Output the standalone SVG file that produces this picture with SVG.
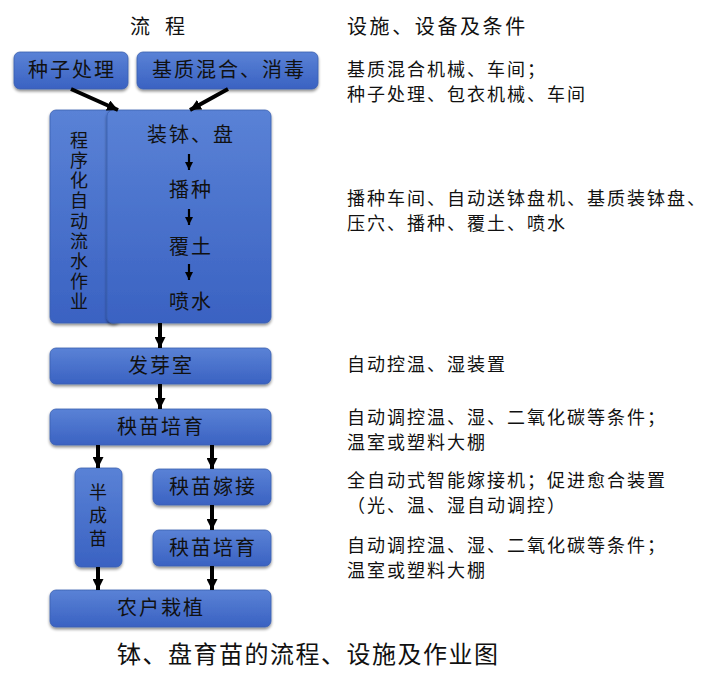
<svg xmlns="http://www.w3.org/2000/svg" width="717" height="675" viewBox="0 0 717 675">
<defs>
<linearGradient id="g" x1="0" y1="0" x2="0" y2="1">
<stop offset="0" stop-color="#5a82d6"/>
<stop offset="1" stop-color="#3a62c2"/>
</linearGradient>
<filter id="sh" x="-10%" y="-10%" width="125%" height="130%">
<feGaussianBlur in="SourceAlpha" stdDeviation="1.5"/>
<feOffset dx="0" dy="2" result="b"/>
<feComponentTransfer><feFuncA type="linear" slope="0.45"/></feComponentTransfer>
<feMerge><feMergeNode/><feMergeNode in="SourceGraphic"/></feMerge>
</filter>
<marker id="ah" viewBox="0 0 10 10" refX="10" refY="5" markerWidth="11" markerHeight="11" markerUnits="userSpaceOnUse" orient="auto">
<path d="M0,0 L10,5 L0,10 Z" fill="#000"/>
</marker>
<marker id="ahs" viewBox="0 0 10 10" refX="10" refY="5" markerWidth="8" markerHeight="8" markerUnits="userSpaceOnUse" orient="auto">
<path d="M0,0 L10,5 L0,10 Z" fill="#000"/>
</marker>
</defs>
<style>
.box{fill:url(#g);stroke:#3a5fb0;stroke-width:0.8;filter:url(#sh)}
.bt{font-family:"Noto Sans CJK SC","Noto Sans CJK TC",sans-serif;font-size:20px;letter-spacing:2px;fill:#111;text-anchor:middle}
.vt{font-family:"Noto Sans CJK SC",sans-serif;font-size:18px;fill:#111;writing-mode:vertical-rl;text-orientation:upright}
.rt{font-family:"Noto Sans CJK SC","Noto Sans CJK TC",sans-serif;font-size:18px;letter-spacing:2px;fill:#111}
.hd{font-family:"Noto Sans CJK SC",sans-serif;font-size:20px;fill:#111}
.cap{font-family:"Noto Sans CJK SC",sans-serif;font-size:24px;letter-spacing:1.5px;fill:#111}
.ar{stroke:#000;stroke-width:4;fill:none;marker-end:url(#ah)}
.ars{stroke:#000;stroke-width:2.2;fill:none;marker-end:url(#ahs)}
</style>

<g id="headers">
<text class="hd" x="130" y="34">流</text>
<text class="hd" x="165" y="34">程</text>
<text class="hd" x="347" y="34" letter-spacing="2.6">设施、设备及条件</text>
</g>

<g id="n-seed"><rect class="box" x="14" y="52" width="114" height="37" rx="6"/><text class="bt" x="72" y="77">种子处理</text></g>
<g id="n-substrate"><rect class="box" x="137" y="52" width="181" height="37" rx="6"/><text class="bt" x="229" y="77">基质混合、消毒</text></g>

<g id="n-program"><rect class="box" x="50" y="110" width="70" height="213" rx="6"/>
<text class="vt" x="79" y="131" letter-spacing="2.2">程序化自动流水作业</text>
</g>
<g id="n-line"><rect class="box" x="107" y="110" width="164" height="213" rx="6"/>
<text class="bt" x="191" y="142">装钵、盘</text>
<text class="bt" x="191" y="197">播种</text>
<text class="bt" x="191" y="254">覆土</text>
<text class="bt" x="191" y="309">喷水</text>
</g>

<g id="n-germ"><rect class="box" x="50" y="348" width="221" height="36" rx="6"/><text class="bt" x="161" y="373">发芽室</text></g>
<g id="n-nursery1"><rect class="box" x="50" y="409" width="221" height="36" rx="6"/><text class="bt" x="161" y="434">秧苗培育</text></g>
<g id="n-half"><rect class="box" x="75" y="468" width="47" height="99" rx="6"/>
<text class="vt" x="98" y="483" font-size="20" letter-spacing="5">半成苗</text></g>
<g id="n-graft"><rect class="box" x="153" y="469" width="118" height="36" rx="6"/><text class="bt" x="213" y="494">秧苗嫁接</text></g>
<g id="n-nursery2"><rect class="box" x="153" y="530" width="118" height="36" rx="6"/><text class="bt" x="213" y="555">秧苗培育</text></g>
<g id="n-farm"><rect class="box" x="50" y="590" width="221" height="37" rx="6"/><text class="bt" x="161" y="615">农户栽植</text></g>

<g id="connectors">
<line class="ar" x1="71" y1="89" x2="118" y2="110"/>
<line class="ar" x1="228" y1="89" x2="190" y2="110"/>
<line class="ars" x1="189" y1="154" x2="189" y2="170"/>
<line class="ars" x1="189" y1="209" x2="189" y2="225"/>
<line class="ars" x1="189" y1="264" x2="189" y2="280"/>
<line class="ar" x1="160" y1="323" x2="160" y2="348"/>
<line class="ar" x1="160" y1="384" x2="160" y2="409"/>
<line class="ar" x1="98" y1="445" x2="98" y2="468"/>
<line class="ar" x1="212" y1="445" x2="212" y2="469"/>
<line class="ar" x1="212" y1="505" x2="212" y2="530"/>
<line class="ar" x1="98" y1="567" x2="98" y2="590"/>
<line class="ar" x1="212" y1="566" x2="212" y2="590"/>
</g>

<g id="conditions">
<text class="rt" x="347" y="76">基质混合机械、车间；<tspan x="347" dy="25">种子处理、包衣机械、车间</tspan></text>
<text class="rt" x="347" y="205">播种车间、自动送钵盘机、基质装钵盘、<tspan x="347" dy="24.5">压穴、播种、覆土、喷水</tspan></text>
<text class="rt" x="347" y="371">自动控温、湿装置</text>
<text class="rt" x="347" y="424">自动调控温、湿、二氧化碳等条件；<tspan x="347" dy="24.5">温室或塑料大棚</tspan></text>
<text class="rt" x="347" y="487">全自动式智能嫁接机；促进愈合装置<tspan x="347" dy="24.5">（光、温、湿自动调控）</tspan></text>
<text class="rt" x="347" y="552">自动调控温、湿、二氧化碳等条件；<tspan x="347" dy="24.5">温室或塑料大棚</tspan></text>
</g>

<text class="cap" x="117" y="663">钵、盘育苗的流程、设施及作业图</text>
</svg>
